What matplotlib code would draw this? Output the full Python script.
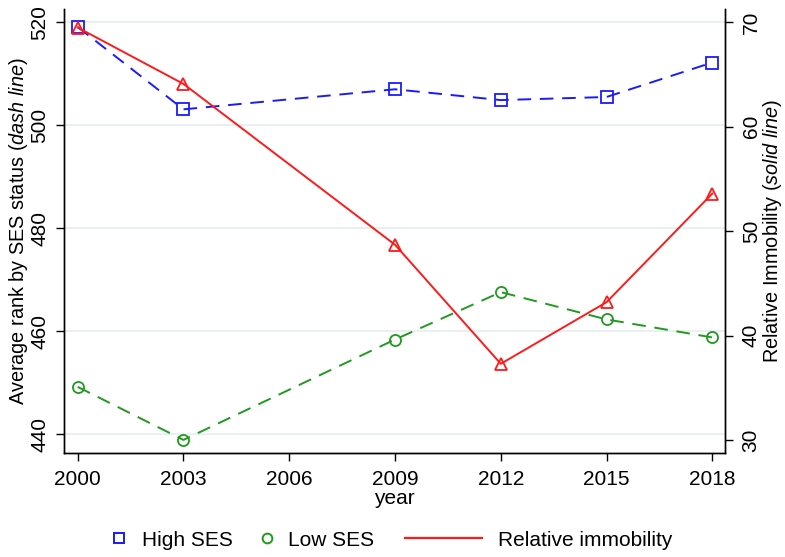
import matplotlib
matplotlib.use("Agg")
import matplotlib.pyplot as plt
from matplotlib.lines import Line2D

plt.rcParams["font.family"] = ["Liberation Sans", "DejaVu Sans"]
plt.rcParams["mathtext.fontset"] = "custom"
plt.rcParams["mathtext.rm"] = "Liberation Sans"
plt.rcParams["mathtext.it"] = "Liberation Sans:italic"

# Survey years and series
years = [2000, 2003, 2009, 2012, 2015, 2018]
high_ses = [519.1, 503.1, 507.0, 504.9, 505.5, 512.2]
low_ses = [449.2, 438.9, 458.4, 467.6, 462.3, 458.8]
relative_immobility = [69.5, 64.1, 48.7, 37.3, 43.2, 53.6]

left_ticks = [440, 460, 480, 500, 520]
right_ticks = [30, 40, 50, 60, 70]
x_ticks = [2000, 2003, 2006, 2009, 2012, 2015, 2018]

BLUE = "#1a1aff"
GREEN = "#1f9a1f"
RED = "#ff1a1a"
FS = 15
LFS = 14.3

fig = plt.figure(figsize=(7.85, 5.57), dpi=100)
ax = fig.add_axes([0.0819, 0.1862, 0.9236 - 0.0819, 0.983 - 0.1862])
ax2 = ax.twinx()

# Average rank lines (dashed)
ax.plot(years, high_ses, color=BLUE, lw=1.4, ls=(0, (7, 4.5)), marker="s",
        ms=8, mfc="none", mec=BLUE, mew=1.3, zorder=3)
ax.plot(years, low_ses, color=GREEN, lw=1.4, ls=(0, (7, 4.5)), marker="o",
        ms=8, mfc="none", mec=GREEN, mew=1.3, zorder=3)

# Relative immobility (solid)
ax2.plot(years, relative_immobility, color=RED, lw=1.4, ls="-", marker="^",
         ms=9, mfc="none", mec=RED, mew=1.3, zorder=3)

ax.set_xlim(1999.62, 2018.36)
ax.set_ylim(436.3, 522.5)
ax2.set_ylim(28.73, 71.23)

ax.set_xticks(x_ticks)
ax.set_yticks(left_ticks)
ax2.set_yticks(right_ticks)

ax.grid(axis="y", color="#e6eef0", lw=1.2, zorder=0)
ax.set_axisbelow(True)

for a in (ax, ax2):
    a.spines["top"].set_visible(False)
    for s in a.spines.values():
        s.set_linewidth(1.0)
        s.set_color("black")
    a.tick_params(axis="both", direction="out", length=6, width=1.0,
                  labelsize=FS, colors="black")
ax.tick_params(axis="x", pad=6)
ax.tick_params(axis="y", pad=5)
ax2.tick_params(axis="y", pad=6)

for lab in ax.get_yticklabels():
    lab.set_rotation(90)
    lab.set_va("center")
for lab in ax2.get_yticklabels():
    lab.set_rotation(90)
    lab.set_va("center")

ax.set_xlabel("year", fontsize=FS, labelpad=0)
ax.set_ylabel(r"Average rank by SES status ($\it{dash\ line}$)", fontsize=LFS, labelpad=0)
ax2.set_ylabel(r"Relative Immobility ($\it{solid\ line}$)", fontsize=LFS, labelpad=0)

# Legend entries across the bottom
h1 = Line2D([], [], ls="none", marker="s", ms=7, mfc="none", mec=BLUE, mew=1.4)
h2 = Line2D([], [], ls="none", marker="o", ms=7, mfc="none", mec=GREEN, mew=1.4)
h3 = Line2D([], [], color=RED, lw=1.6)

common = dict(frameon=False, fontsize=FS, loc="center left", borderpad=0,
              borderaxespad=0)
fig.legend([h1], ["High SES"], bbox_to_anchor=(0.1383, 0.0305),
           handlelength=1.0, handletextpad=0.6, **common)
fig.legend([h2], ["Low SES"], bbox_to_anchor=(0.3269, 0.0305),
           handlelength=1.0, handletextpad=0.5, **common)
fig.legend([h3], ["Relative immobility"], bbox_to_anchor=(0.516, 0.0305),
           handlelength=3.7, handletextpad=0.77, **common)

fig.savefig("out.png", dpi=100)
